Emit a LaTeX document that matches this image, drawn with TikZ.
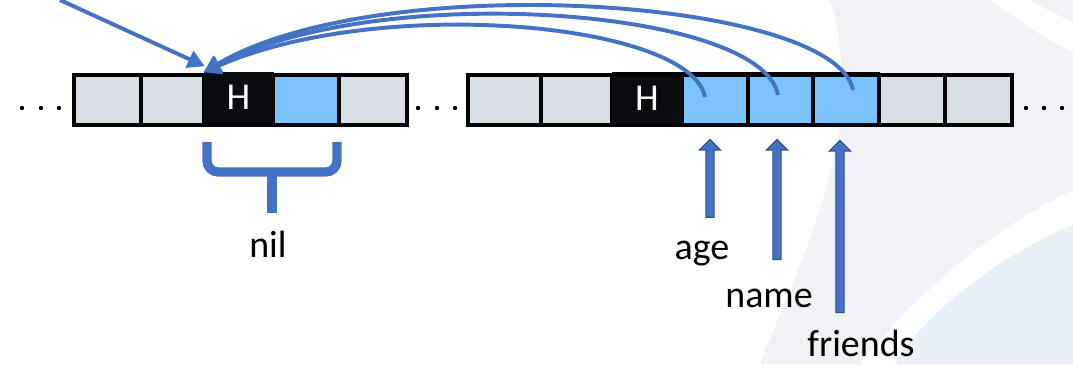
\documentclass[tikz,border=0pt]{standalone}
\usepackage{fontspec}
\setmainfont{Carlito}
\usetikzlibrary{arrows.meta,shapes.arrows}
\definecolor{slotgrey}{RGB}{217,221,229}
\definecolor{slotblue}{RGB}{122,195,253}
\definecolor{headblack}{RGB}{10,12,15}
\definecolor{refblue}{RGB}{68,114,196}
\definecolor{refedge}{RGB}{47,82,143}
\definecolor{hazeblue}{RGB}{232,240,249}
\definecolor{hazegrey}{RGB}{242,242,246}

\begin{document}
\begin{tikzpicture}[x=0.025cm,y=-0.025cm,
    slot/.style={draw=black,line width=2.6pt,minimum height=1.25cm,inner sep=0pt},
    head/.style={fill=headblack,draw=headblack,minimum width=1.725cm,minimum height=1.25cm,
      inner sep=0pt,text=white,font=\fontsize{27}{27}\selectfont},
    ptr/.style={refblue,line width=2.8pt,-{Triangle[length=0.42cm,width=0.45cm]}},
    fieldarrow/.style={single arrow,draw=refedge,fill=refblue,line width=0.8pt,inner sep=0.09cm,
      single arrow head extend=0.16cm,single arrow tip angle=90,anchor=tail,rotate=90},
    lbl/.style={anchor=base,inner sep=0pt,font=\fontsize{27}{27}\selectfont}]
    \useasboundingbox (0,0) rectangle (1073,364);

    % Background haze
    \fill[hazegrey] (830,0) .. controls (870,130) and (800,260) .. (760,364)
      -- (1073,364) -- (1073,0) -- cycle;
    \fill[white] (860,364) .. controls (920,290) and (990,230) .. (1073,190)
      -- (1073,225) .. controls (990,260) and (920,320) .. (895,364) -- cycle;
    \fill[hazeblue] (895,364) .. controls (920,320) and (990,260) .. (1073,225)
      -- (1073,364) -- cycle;
    \fill[white] (990,0) .. controls (1020,20) and (1045,40) .. (1073,52)
      -- (1073,22) .. controls (1055,14) and (1040,6) .. (1030,0) -- cycle;

    % Left heap segment
    \foreach \a/\b/\c [count=\i] in {74/141/slotgrey,141/204/slotgrey,204/273/headblack,
        273/339/slotblue,339/407/slotgrey}{
      \pgfmathsetmacro\w{(\b-\a)*0.025}
      \node[slot,fill=\c,minimum width=\w cm] (L\i) at ({(\a+\b)/2},100) {};
    }
    \node[head] (lhead) at (238.5,97.5) {H};

    % Right heap segment
    \foreach \a/\b/\c [count=\i] in {468/541/slotgrey,541/612/slotgrey,612/682/headblack,
        682/748/slotblue,748/813/slotblue,813/879/slotblue,879/945/slotgrey,945/1012/slotgrey}{
      \pgfmathsetmacro\w{(\b-\a)*0.025}
      \node[slot,fill=\c,minimum width=\w cm] (R\i) at ({(\a+\b)/2},100) {};
    }
    \node[head,minimum width=1.75cm] (rhead) at (647,98) {H};
    \draw[black,line width=3.6pt] (612,74.5) -- (880,74.5);

    % Dots between segments
    \foreach \x in {22,41,59,418,437,455,1026,1044,1062}
      \fill (\x,108) circle (2.2);

    % Pointers into the object
    \coordinate (srcptr) at (60,0);
    \draw[ptr] (srcptr) -- ([shift={(1,-6)}]lhead.north west);
    \coordinate (agefld) at (705,97);
    \coordinate (namefld) at (778,95);
    \coordinate (friendsfld) at (853,90);
    \draw[ptr] (agefld) .. controls (690,22) and (380,-5) .. (lhead.north west);
    \draw[ptr] (namefld) .. controls (762,8) and (380,-20) .. (lhead.north west);
    \draw[ptr] (friendsfld) .. controls (835,-2) and (380,-32) .. (lhead.north west);

    % nil object brace
    \draw[refblue,line width=6.6pt,rounded corners=8] (207,142) -- (207,172) -- (337,172) -- (337,142);
    \draw[refblue,line width=6.6pt] (272,170) -- (272,213);
    \node[lbl] (nil) at (268,257) {nil};

    % Field offsets
    \node[fieldarrow,minimum height=1.95cm] (agearr) at (710,218) {};
    \node[fieldarrow,minimum height=3cm] (namearr) at (777,260) {};
    \node[fieldarrow,minimum height=4.3cm] (friendsarr) at (840,313) {};
    \node[lbl] (age) at (702,259) {age};
    \node[lbl] (name) at (769,307) {name};
    \node[lbl] (friends) at (861,356) {friends};
\end{tikzpicture}
\end{document}
